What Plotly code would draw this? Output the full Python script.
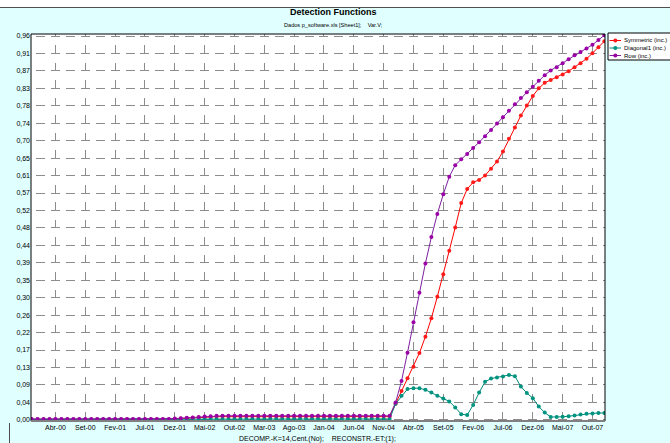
import plotly.graph_objects as go

# ---------------- data ----------------
pt_months = ["Jan", "Fev", "Mar", "Abr", "Mai", "Jun", "Jul", "Ago", "Set", "Out", "Nov", "Dez"]
months = ["Dez-99"] + [f"{m}-{y:02d}" for y in range(0, 8) for m in pt_months]  # 97 monthly points

x_tick_labels = ["Abr-00", "Set-00", "Fev-01", "Jul-01", "Dez-01", "Mai-02", "Out-02", "Mar-03",
                 "Ago-03", "Jan-04", "Jun-04", "Nov-04", "Abr-05", "Set-05", "Fev-06", "Jul-06",
                 "Dez-06", "Mai-07", "Out-07"]

y_tick_labels = ["0,00", "0,04", "0,09", "0,13", "0,17", "0,22", "0,26", "0,30", "0,35", "0,39",
                 "0,44", "0,48", "0,52", "0,57", "0,61", "0,65", "0,70", "0,74", "0,78", "0,83",
                 "0,87", "0,91", "0,96"]
y_top = 0.96

symmetric = ([0.001] * 24 +
             [0.002, 0.003, 0.004, 0.005, 0.006, 0.007, 0.007] +
             [0.008] * 30 +
             [0.040, 0.072, 0.104, 0.133, 0.167, 0.208, 0.254, 0.308, 0.364, 0.423, 0.481, 0.542,
              0.577, 0.594, 0.600, 0.611, 0.628, 0.646, 0.671, 0.703, 0.731, 0.761, 0.786, 0.810,
              0.829, 0.843, 0.850, 0.857, 0.864, 0.872, 0.882, 0.892, 0.903, 0.917, 0.932, 0.947])

diagonal1 = ([0.001] * 28 +
             [0.002] * 33 +
             [0.040, 0.060, 0.077, 0.079, 0.079, 0.075, 0.068, 0.060, 0.053, 0.046, 0.031, 0.014,
              0.012, 0.037, 0.068, 0.095, 0.103, 0.106, 0.108, 0.112, 0.109, 0.083, 0.067, 0.054,
              0.033, 0.018, 0.007, 0.007, 0.0075, 0.009, 0.011, 0.013, 0.015, 0.016, 0.017, 0.017])

row = ([0.002] * 24 +
       [0.003, 0.004, 0.005, 0.006, 0.007, 0.008, 0.009] +
       [0.010] * 30 +
       [0.043, 0.097, 0.168, 0.244, 0.318, 0.391, 0.457, 0.515, 0.564, 0.608, 0.637, 0.652,
        0.665, 0.680, 0.694, 0.709, 0.725, 0.741, 0.757, 0.773, 0.789, 0.805, 0.819, 0.833,
        0.848, 0.862, 0.874, 0.882, 0.892, 0.902, 0.912, 0.920, 0.929, 0.938, 0.950, 0.962])

series_names = ["Symmetric (inc.)", "Diagonal1 (inc.)", "Row (inc.)"]
series_values = [symmetric, diagonal1, row]
line_colors = ["#ff0000", "#00897a", "#7d1fa0"]
marker_colors = ["#ff1a1a", "#00937f", "#9a00a6"]

# ---------------- layout constants ----------------
W, H = 670, 443
ML, MR, MT, MB = 31, 65, 34, 22
PW, PH = W - ML - MR, H - MT - MB
x_range = [-0.1, 96.1]
y_range = [-0.003, 0.965]
FONT = "Liberation Sans, Arial, sans-serif"


def px_to_paper_x(px):
    return (px - ML) / PW


def px_to_paper_y(py):
    return (H - MB - py) / PH


# dash patterns aligned so horizontal dashes sit on crossings, vertical dashes end at the horizontals
px_per_x = PW / (x_range[1] - x_range[0])
px_per_y = PH / (y_range[1] - y_range[0])
y_step = y_top / (len(y_tick_labels) - 1)


def dash_pattern(offset, period, length):
    s = offset % period
    if s + length <= period:
        parts = [0, s, length, period - s - length]
    else:
        a = s + length - period
        parts = [a, s - a, period - s, 0]
    return ",".join(f"{p:.3f}px" for p in parts)


x_first = (months.index(x_tick_labels[0]) - x_range[0]) * px_per_x
h_period = 2.5 * px_per_x
h_dash = dash_pattern(x_first - 4.5, h_period, 9)
y_first = (y_range[1] - y_top) * px_per_y
v_period = y_step * px_per_y
v_dash = dash_pattern(y_first - 8, v_period, 8)

fig = go.Figure()
for name, vals, lc, mc in zip(series_names, series_values, line_colors, marker_colors):
    fig.add_trace(go.Scatter(
        x=months, y=vals, name=name, mode="lines+markers", showlegend=False,
        line=dict(color=lc, width=1),
        marker=dict(color=mc, size=4, symbol="circle", line=dict(width=0)),
    ))

# ---------------- legend (compact box at the right edge, as in the original) ----------------
LEG_X0, LEG_Y0, LEG_Y1 = 608, 33, 60
leg_rows = [40.5, 48, 55.5]
shapes = [
    dict(type="rect", xref="paper", yref="paper",
         x0=px_to_paper_x(LEG_X0), x1=px_to_paper_x(W + 5),
         y0=px_to_paper_y(LEG_Y1), y1=px_to_paper_y(LEG_Y0),
         fillcolor="#ffffff", line=dict(color="#000000", width=1)),
]
annotations = []
for name, lc, mc, ry in zip(series_names, line_colors, marker_colors, leg_rows):
    shapes.append(dict(type="line", xref="paper", yref="paper",
                       x0=px_to_paper_x(609.5), x1=px_to_paper_x(621),
                       y0=px_to_paper_y(ry), y1=px_to_paper_y(ry),
                       line=dict(color=lc, width=1)))
    shapes.append(dict(type="circle", xref="paper", yref="paper",
                       x0=px_to_paper_x(613.3), x1=px_to_paper_x(617.3),
                       y0=px_to_paper_y(ry + 2), y1=px_to_paper_y(ry - 2),
                       fillcolor=mc, line=dict(width=0)))
    annotations.append(dict(text=name, x=px_to_paper_x(623), y=px_to_paper_y(ry),
                            xref="paper", yref="paper", showarrow=False,
                            xanchor="left", yanchor="middle", borderpad=0,
                            font=dict(family=FONT, size=6, color="#000000")))

annotations += [
    dict(text="<b>Detection Functions</b>", x=px_to_paper_x(333), y=px_to_paper_y(12),
         xref="paper", yref="paper", showarrow=False, xanchor="center", yanchor="middle",
         font=dict(family=FONT, size=9)),
    dict(text="Dados p_software.xls [Sheet1];    Var.V;", x=px_to_paper_x(333),
         y=px_to_paper_y(24.5), xref="paper", yref="paper", showarrow=False,
         xanchor="center", yanchor="middle", font=dict(family=FONT, size=5.6)),
    dict(text="DECOMP.-K=14,Cent.(No);    RECONSTR.-ET:(1);", x=px_to_paper_x(317),
         y=px_to_paper_y(438.5), xref="paper", yref="paper", showarrow=False,
         xanchor="center", yanchor="middle", borderpad=0, font=dict(family=FONT, size=7)),
]

shapes += [
    # white strip and dark rule at the very top of the page
    dict(type="rect", xref="paper", yref="paper", x0=px_to_paper_x(0), x1=px_to_paper_x(W),
         y0=px_to_paper_y(0), y1=px_to_paper_y(7), fillcolor="#ffffff", line=dict(width=0),
         layer="below"),
    dict(type="line", xref="paper", yref="paper", x0=px_to_paper_x(0), x1=px_to_paper_x(W),
         y0=px_to_paper_y(7.5), y1=px_to_paper_y(7.5), line=dict(color="#505050", width=1)),
    dict(type="line", xref="paper", yref="paper", x0=px_to_paper_x(9.5), x1=px_to_paper_x(9.5),
         y0=px_to_paper_y(423), y1=px_to_paper_y(H), line=dict(color="#505050", width=1)),
    # plot frame
    dict(type="line", xref="paper", yref="paper", x0=0, x1=1, y0=1, y1=1,
         line=dict(color="#000000", width=1)),
    dict(type="line", xref="paper", yref="paper", x0=0, x1=0, y0=0, y1=1,
         line=dict(color="#000000", width=1)),
    dict(type="line", xref="paper", yref="paper", x0=1, x1=1, y0=0, y1=1,
         line=dict(color="#000000", width=1)),
    dict(type="line", xref="paper", yref="paper", x0=0, x1=1, y0=0, y1=0,
         line=dict(color="#808080", width=2)),
]

fig.update_layout(
    width=W, height=H,
    margin=dict(l=ML, r=MR, t=MT, b=MB, autoexpand=False),
    paper_bgcolor="#e0ffff",
    plot_bgcolor="#ffffff",
    font=dict(family=FONT, size=7, color="#000000"),
    showlegend=False,
    xaxis=dict(
        type="category", range=x_range, tickmode="array",
        tickvals=x_tick_labels, ticktext=x_tick_labels,
        showgrid=True, gridcolor="#8c8c8c", gridwidth=1, griddash=v_dash,
        showline=False, zeroline=False, ticks="",
        tickfont=dict(family=FONT, size=7), ticklabelstandoff=1,
    ),
    yaxis=dict(
        range=y_range, tickmode="array",
        tickvals=[i * y_step for i in range(len(y_tick_labels))], ticktext=y_tick_labels,
        showgrid=True, gridcolor="#8c8c8c", gridwidth=1, griddash=h_dash,
        showline=False, zeroline=False, ticks="",
        tickfont=dict(family=FONT, size=7),
    ),
    annotations=annotations,
    shapes=shapes,
)

fig.write_html("out.html")
